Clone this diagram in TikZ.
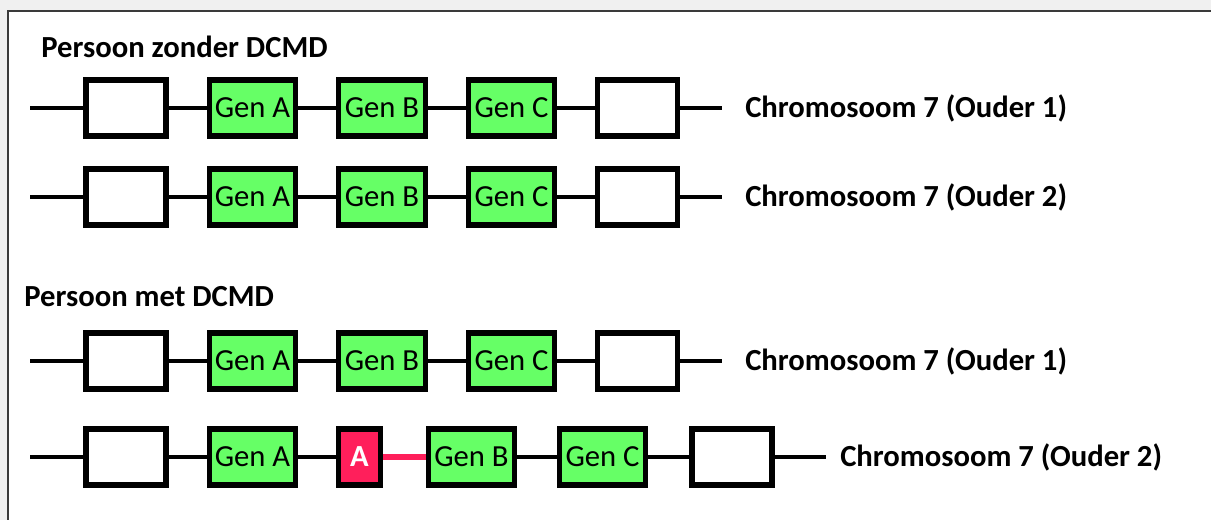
\documentclass[tikz,border=0pt]{standalone}
\usepackage{fontspec}
\setmainfont{Carlito}
\definecolor{genegreen}{HTML}{66FF66}
\definecolor{mutred}{HTML}{FF1F5B}
\definecolor{pagegray}{HTML}{F0F0F0}
\definecolor{framegray}{HTML}{3A3A3A}
\tikzset{
  chr/.style={line width=3.6pt, black},
  blank/.style={draw=black, line width=3.8pt, fill=white, minimum width=60pt, minimum height=42pt, inner sep=0pt},
  gene/.style={draw=black, line width=3.8pt, fill=genegreen, minimum width=65pt, minimum height=42pt, inner sep=0pt, font=\fontsize{23}{26}\selectfont},
  dup/.style={draw=black, line width=3.8pt, fill=mutred, minimum width=32pt, minimum height=42pt, inner sep=0pt, text=white, font=\fontsize{23}{26}\selectfont\bfseries},
  label/.style={anchor=west, inner sep=0pt, font=\fontsize{23}{26}\selectfont\bfseries},
  title/.style={anchor=west, inner sep=0pt, font=\fontsize{23}{26}\selectfont\bfseries},
}
\begin{document}
\begin{tikzpicture}[x=0.75pt, y=-0.75pt]
  % page and frame
  \fill[pagegray] (0,0) rectangle (1211,520);
  \useasboundingbox (0,0) rectangle (1211,520);
  \fill[white] (8,11) rectangle (1215,525);
  \draw[framegray, line width=1.5pt] (8,525) -- (8,11) -- (1215,11);

  % ---- Persoon zonder DCMD ----
  \node[title] (t1) at (41,47) {Persoon zonder DCMD};

  % row 1
  \coordinate (s1) at (30,108);
  \node[blank] (a1) at (126,108) {};
  \node[gene]  (ga1) at (252.5,108) {Gen A};
  \node[gene]  (gb1) at (382,108) {Gen B};
  \node[gene]  (gc1) at (511.5,108) {Gen C};
  \node[blank] (b1) at (637.5,108) {};
  \coordinate (e1) at (722,108);
  \node[label] (l1) at (745,108) {Chromosoom 7 (Ouder 1)};
  \draw[chr] (s1) -- (a1) (a1) -- (ga1) (ga1) -- (gb1) (gb1) -- (gc1) (gc1) -- (b1) (b1) -- (e1);

  % row 2
  \coordinate (s2) at (30,197);
  \node[blank] (a2) at (126,197) {};
  \node[gene]  (ga2) at (252.5,197) {Gen A};
  \node[gene]  (gb2) at (382,197) {Gen B};
  \node[gene]  (gc2) at (511.5,197) {Gen C};
  \node[blank] (b2) at (637.5,197) {};
  \coordinate (e2) at (722,197);
  \node[label] (l2) at (745,197) {Chromosoom 7 (Ouder 2)};
  \draw[chr] (s2) -- (a2) (a2) -- (ga2) (ga2) -- (gb2) (gb2) -- (gc2) (gc2) -- (b2) (b2) -- (e2);

  % ---- Persoon met DCMD ----
  \node[title] (t2) at (24,297) {Persoon met DCMD};

  % row 3
  \coordinate (s3) at (30,361);
  \node[blank] (a3) at (126,361) {};
  \node[gene]  (ga3) at (252.5,361) {Gen A};
  \node[gene]  (gb3) at (382,361) {Gen B};
  \node[gene]  (gc3) at (511.5,361) {Gen C};
  \node[blank] (b3) at (637.5,361) {};
  \coordinate (e3) at (722,361);
  \node[label] (l3) at (745,361) {Chromosoom 7 (Ouder 1)};
  \draw[chr] (s3) -- (a3) (a3) -- (ga3) (ga3) -- (gb3) (gb3) -- (gc3) (gc3) -- (b3) (b3) -- (e3);

  % row 4 with the duplicated fragment
  \coordinate (s4) at (30,457);
  \node[blank] (a4) at (126,457) {};
  \node[gene]  (ga4) at (252.5,457) {Gen A};
  \node[dup]   (d4) at (359.5,457) {A};
  \node[gene]  (gb4) at (471.5,457) {Gen B};
  \node[gene]  (gc4) at (602.5,457) {Gen C};
  \node[blank] (b4) at (732,457) {};
  \coordinate (e4) at (826,457);
  \node[label] (l4) at (840,457) {Chromosoom 7 (Ouder 2)};
  \draw[chr] (s4) -- (a4) (a4) -- (ga4) (ga4) -- (d4) (gb4) -- (gc4) (gc4) -- (b4) (b4) -- (e4);
  \draw[chr, mutred, line width=4.8pt] (d4) -- (gb4);
\end{tikzpicture}
\end{document}
